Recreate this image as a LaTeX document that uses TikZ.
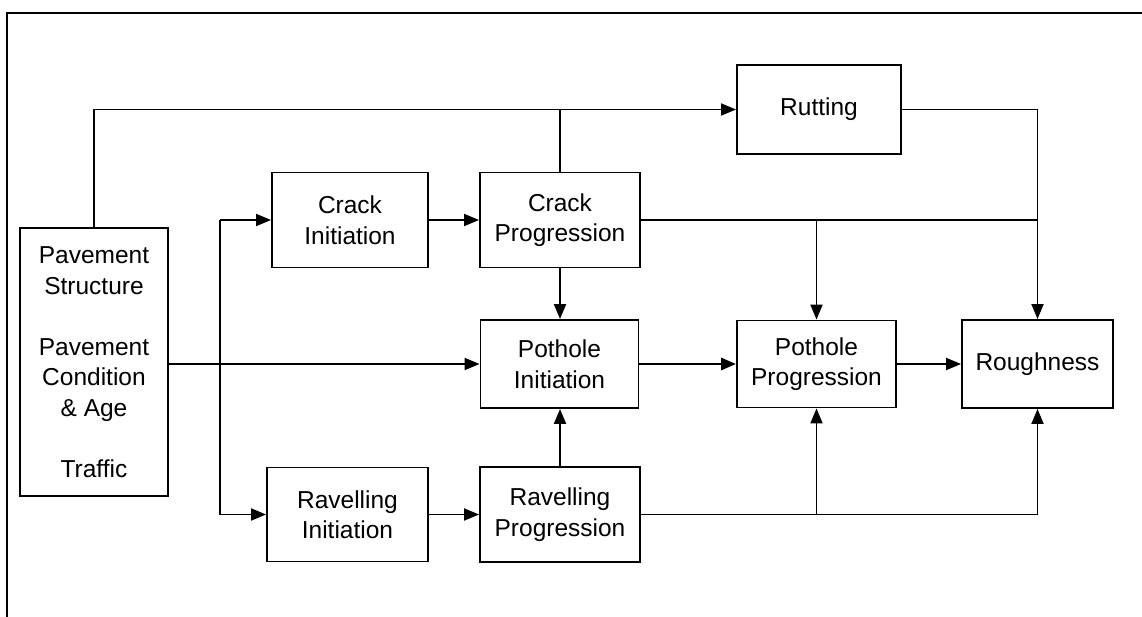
\documentclass[tikz,border=0pt]{standalone}
\usepackage{fontspec}
\setmainfont{Liberation Sans}
\usetikzlibrary{arrows.meta}
\begin{document}
\begin{tikzpicture}[x=1pt,y=-1pt,
  box/.style={draw,line width=1.9pt,align=center,inner sep=0pt,
    font=\fontsize{24.5}{30.5}\selectfont},
  conn/.style={line width=1.9pt},
  arr/.style={line width=1.9pt,-{Triangle[length=15pt,width=12pt]}}]
\useasboundingbox (0,0) rectangle (1142,617);
\draw[line width=1.9pt] (7,617) -- (7,13) -- (1142,13);
\node[box,minimum width=148pt,minimum height=268pt] (pav) at (94,362)
  {Pavement\\Structure\\ \\Pavement\\Condition\\\& Age\\ \\Traffic};
\node[box,minimum width=156pt,minimum height=95pt] (ci) at (350,220) {Crack\\Initiation};
\node[box,minimum width=160pt,minimum height=95pt] (cp) at (560,220) {Crack\\Progression};
\node[box,minimum width=164pt,minimum height=89pt] (rut) at (819,109.5) {Rutting};
\node[box,minimum width=158pt,minimum height=88pt] (pi) at (559.5,364) {Pothole\\Initiation};
\node[box,minimum width=159pt,minimum height=87pt] (pp) at (816.5,364) {Pothole\\Progression};
\node[box,minimum width=151pt,minimum height=88pt] (rough) at (1037.5,364) {Roughness};
\node[box,minimum width=161pt,minimum height=94pt] (ri) at (347.5,514.5) {Ravelling\\Initiation};
\node[box,minimum width=160pt,minimum height=95pt] (rp) at (560,514.5) {Ravelling\\Progression};
\coordinate (bx) at (220,0);
% from pavement
\draw[arr] (pav.north) |- (rut.west);
\draw[arr] (pav.east |- pi.west) -- (pi.west);
\draw[arr] (bx |- ci.west) -- (ci.west);
\draw[arr] (bx |- ci.west) |- (ri.west);
% crack
\draw[arr] (ci.east) -- (cp.west);
\draw[conn] (cp.north) -- (cp.north |- rut.west);
\draw[arr] (cp.south) -- (cp.south |- pi.north);
\draw[conn] (cp.east) -- (cp.east -| rough.north);
\draw[arr] (cp.east -| pp.north) -- (pp.north);
% rutting
\draw[arr] (rut.east) -| (rough.north);
% ravelling
\draw[arr] (ri.east) -- (rp.west);
\draw[arr] (rp.north) -- (rp.north |- pi.south);
\draw[arr] (rp.east) -| (rough.south);
\draw[arr] (rp.east -| pp.south) -- (pp.south);
% pothole
\draw[arr,line width=2.8pt] (pi.east) -- (pp.west);
\draw[arr] (pp.east) -- (rough.west);
\end{tikzpicture}
\end{document}
